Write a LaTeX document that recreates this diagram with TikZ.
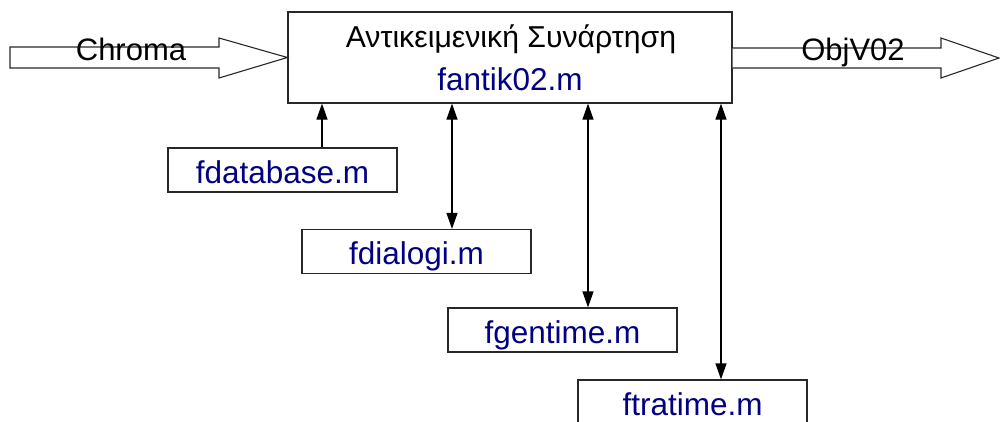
\documentclass[tikz,border=0pt]{standalone}
\usepackage{fontspec}
\setmainfont{Liberation Sans}
\usetikzlibrary{arrows.meta}
\definecolor{fname}{RGB}{0,0,128}
\definecolor{frame}{RGB}{40,40,40}
\begin{document}
\begin{tikzpicture}[x=1pt,y=-1pt,
  modbox/.style={draw=frame,line width=1.2pt,rectangle,inner sep=0pt,
    minimum width=229pt,minimum height=44pt,text=fname,
    text height=26pt,text depth=0pt,
    font=\fontsize{31.5}{36}\selectfont},
  flow/.style={draw=frame,line width=1.1pt,fill=white,line join=miter},
  flowlabel/.style={anchor=base,font=\fontsize{31}{36}\selectfont},
  link/.style={line width=1.2pt,{Triangle[length=16pt,width=11pt]}-{Triangle[length=16pt,width=11pt]}},
  uplink/.style={line width=1.2pt,-{Triangle[length=16pt,width=11pt]}}]
\useasboundingbox (0,0) rectangle (1000,421);

% main function block
\node[draw=frame,line width=1.2pt,rectangle,inner sep=0pt,
  minimum width=444pt,minimum height=91pt] (main) at (510,57.5) {};
\node[anchor=base,font=\fontsize{30.2}{34}\selectfont] (title) at (511,47) {Αντικειμενική Συνάρτηση};
\node[anchor=base,text=fname,font=\fontsize{31.5}{36}\selectfont] (file) at (510,90) {fantik02.m};

% input and output block arrows
\coordinate (inTail) at (10,57.5);
\coordinate (outTip) at (999,58);
\draw[flow] (inTail) ++(0,-10.5) -- (219,47) -- (219,38) -- (main.west) -- (219,78) -- (219,68) -- (10,68) -- cycle;
\draw[flow] (main.east |- 0,48) -- (941,48) -- (941,38) -- (outTip) -- (941,78) -- (941,68) -- (main.east |- 0,68);
\node[flowlabel] (inlbl) at (131,60) {Chroma};
\node[flowlabel] (outlbl) at (853,60) {ObjV02};

% helper modules
\node[modbox] (fdb)  at (282.5,170) {fdatabase.m};
\node[modbox] (fdia) at (416.5,251.5) {fdialogi.m};
\node[modbox] (fgen) at (562.5,330) {fgentime.m};
\node[modbox] (ftra) at (692.5,402) {ftratime.m};

% calls between the objective function and the modules
\draw[uplink] (fdb.north -| 322,0) -- (main.south -| 322,0);
\draw[link] (main.south -| 452,0) -- (fdia.north -| 452,0);
\draw[link] (main.south -| 588,0) -- (fgen.north -| 588,0);
\draw[link] (main.south -| 721,0) -- (ftra.north -| 721,0);
\end{tikzpicture}
\end{document}
